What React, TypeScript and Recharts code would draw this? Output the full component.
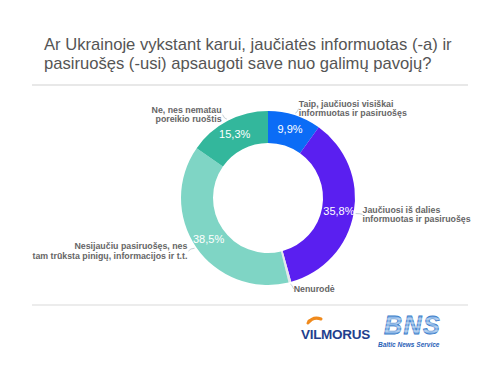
import React from 'react';
import { PieChart, Pie, Cell } from 'recharts';

const categories = [
  ['Taip, jaučiuosi visiškai', 'informuotas ir pasiruošęs'],
  ['Jaučiuosi iš dalies', 'informuotas ir pasiruošęs'],
  ['Nenurodė'],
  ['Nesijaučiu pasiruošęs, nes', 'tam trūksta pinigų, informacijos ir t.t.'],
  ['Ne, nes nematau', 'poreikio ruoštis'],
];
const values = [9.9, 35.8, 0.5, 38.5, 15.3];
const showPercent = [true, true, false, true, true];
const colors = ['#0b6cf6', '#5a1ff0', '#e4e7ea', '#7fd5c5', '#33b79c'];

const data = categories.map((lines, i) => ({ name: lines.join(' '), lines, value: values[i], showPct: showPercent[i] }));

const RAD = Math.PI / 180;
const FONT = '"Liberation Sans", Arial, Helvetica, sans-serif';

const renderLabel = (props: any) => {
  const { cx, cy, midAngle, innerRadius, outerRadius, index } = props;
  const d = data[index];
  const cos = Math.cos(-midAngle * RAD);
  const sin = Math.sin(-midAngle * RAD);
  const rIn = (innerRadius + outerRadius) / 2 + 1;
  const px = cx + rIn * cos;
  const py = cy + rIn * sin;
  const r1 = outerRadius + 2;
  const r2 = outerRadius + 7;
  const x1 = cx + r1 * cos;
  const y1 = cy + r1 * sin;
  const x2 = cx + r2 * cos;
  const y2 = cy + r2 * sin;
  const right = cos >= 0;
  const tx = x2 + (right ? 2 : -3);
  const lh = 9.5;
  const n = d.lines.length;
  const ty0 = y2 - ((n - 1) * lh) / 2 + 3;
  return (
    <g key={`lbl-${index}`}>
      {d.showPct && (
        <text x={px} y={py} fill="#ffffff" fontSize={11} fontFamily={FONT} textAnchor="middle" dominantBaseline="central">
          {d.value.toFixed(1).replace('.', ',') + '%'}
        </text>
      )}
      <path d={`M${x1},${y1} Q${x2},${y1} ${x2 + (right ? 2 : -2)},${y2}`} stroke="#b8c4cc" fill="none" strokeWidth={0.8} />
      {d.lines.map((l: string, k: number) => (
        <text key={k} x={tx} y={ty0 + k * lh} fill="#666666" fontSize={8.8} fontWeight="bold" fontFamily={FONT} textAnchor={right ? 'start' : 'end'}>
          {l}
        </text>
      ))}
    </g>
  );
};

export default function App() {
  return (
    <div style={{ position: 'fixed', left: 0, top: 0, width: 500, height: 375, background: '#ffffff', overflow: 'hidden' }}>
      <div style={{ position: 'absolute', left: 44, top: 35, fontFamily: FONT, fontSize: 16.6, lineHeight: '19px', color: '#555555', whiteSpace: 'nowrap' }}>
        Ar Ukrainoje vykstant karui, jaučiatės informuotas (-a) ir
        <br />
        pasiruošęs (-usi) apsaugoti save nuo galimų pavojų?
      </div>
      <div style={{ position: 'absolute', left: 32, top: 84, width: 436, height: 2, background: '#e8e8e8' }} />
      <div style={{ position: 'absolute', left: 32, top: 304, width: 436, height: 2, background: '#ececec' }} />
      <div style={{ position: 'absolute', left: 0, top: 0 }}>
        <PieChart width={500} height={375}>
          <Pie
            data={data}
            dataKey="value"
            nameKey="name"
            cx={263}
            cy={193}
            innerRadius={55}
            outerRadius={87}
            startAngle={90}
            endAngle={-270}
            stroke="none"
            label={renderLabel}
            labelLine={false}
            isAnimationActive={false}
          >
            {data.map((_, i) => (
              <Cell key={i} fill={colors[i]} />
            ))}
          </Pie>
        </PieChart>
      </div>
      <svg style={{ position: 'absolute', left: 0, top: 0 }} width={500} height={375}>
        <path d="M308,323 Q313,316 321,319" stroke="#f08a1c" strokeWidth={3} fill="none" strokeLinecap="round" />
        <circle cx={309} cy={321} r={1.6} fill="#f08a1c" />
        <text x={301} y={339} fontFamily={FONT} fontWeight="bold" fontSize={13.5} fill="#1f3f8e" letterSpacing={-0.3}>VILMORUS</text>
        <text x={384} y={334} fontFamily={FONT} fontWeight="bold" fontStyle="italic" fontSize={25} fill="#8db8e8" stroke="#3b7cc9" strokeWidth={0.8} letterSpacing={1.5}>BNS</text>
        {[319, 323, 327, 331].map((y) => (
          <line key={y} x1={380} x2={450} y1={y} y2={y} stroke="#ffffff" strokeWidth={0.8} opacity={0.8} />
        ))}
        <text x={378} y={347} fontFamily={FONT} fontWeight="bold" fontStyle="italic" fontSize={6.5} fill="#2a62b8">Baltic News Service</text>
      </svg>
    </div>
  );
}
